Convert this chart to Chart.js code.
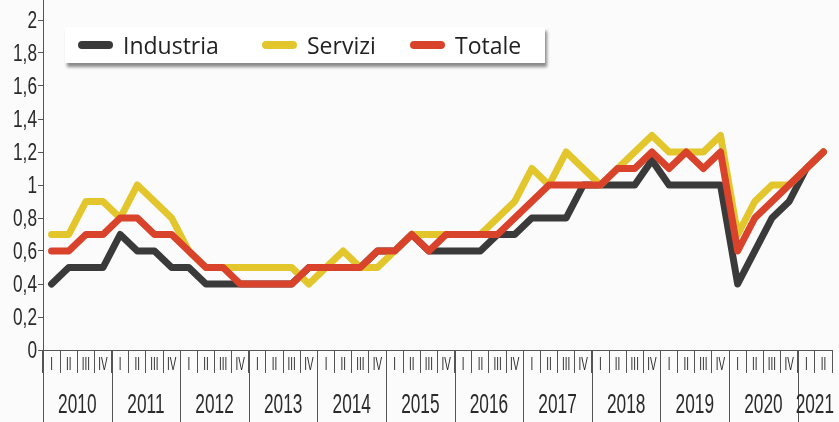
<!DOCTYPE html>
<html>
<head>
<meta charset="utf-8">
<script src="https://cdn.jsdelivr.net/npm/chart.js@4.4.1/dist/chart.umd.min.js"></script>
<style>
html,body{margin:0;padding:0;background:#fbfbfb;}
#wrap{position:relative;width:839px;height:422px;overflow:hidden;}
#c{position:absolute;left:0;top:0;}
#legend{position:absolute;left:65px;top:27px;width:480px;height:36px;background:#fff;
  box-shadow:2px 4px 3px rgba(0,0,0,0.45);font-family:"Open Sans",sans-serif;font-size:23px;color:#222;}
.item{position:absolute;top:0;height:36px;display:flex;align-items:center;}
.sw{width:35px;height:8px;border-radius:4px;margin-right:10px;}
</style>
</head>
<body>
<div id="wrap">
<canvas id="c" width="839" height="422"></canvas>
<div id="legend"></div>
</div>
<script>
// ---- data ----
const years = ['2010','2011','2012','2013','2014','2015','2016','2017','2018','2019','2020','2021'];
const quarterNames = ['I','II','III','IV'];
const seriesNames = ['Industria','Servizi','Totale'];
const industria = [0.4,0.5,0.5,0.5, 0.7,0.6,0.6,0.5, 0.5,0.4,0.4,0.4, 0.4,0.4,0.4,0.5,
                   0.5,0.5,0.5,0.6, 0.6,0.7,0.6,0.6, 0.6,0.6,0.7,0.7, 0.8,0.8,0.8,1.0,
                   1.0,1.0,1.0,1.15, 1.0,1.0,1.0,1.0, 0.4,0.6,0.8,0.9, 1.1,1.2];
const servizi  = [0.7,0.7,0.9,0.9, 0.8,1.0,0.9,0.8, 0.6,0.5,0.5,0.5, 0.5,0.5,0.5,0.4,
                   0.5,0.6,0.5,0.5, 0.6,0.7,0.7,0.7, 0.7,0.7,0.8,0.9, 1.1,1.0,1.2,1.1,
                   1.0,1.1,1.2,1.3, 1.2,1.2,1.2,1.3, 0.7,0.9,1.0,1.0, 1.1,1.2];
const totale   = [0.6,0.6,0.7,0.7, 0.8,0.8,0.7,0.7, 0.6,0.5,0.5,0.4, 0.4,0.4,0.4,0.5,
                   0.5,0.5,0.5,0.6, 0.6,0.7,0.6,0.7, 0.7,0.7,0.7,0.8, 0.9,1.0,1.0,1.0,
                   1.0,1.1,1.1,1.2, 1.1,1.2,1.1,1.2, 0.6,0.8,0.9,1.0, 1.1,1.2];
const yTickValues = [0,0.2,0.4,0.6,0.8,1,1.2,1.4,1.6,1.8,2];
const yTickLabels = ['0','0,2','0,4','0,6','0,8','1','1,2','1,4','1,6','1,8','2'];

// ---- derived ----
const nPoints = industria.length;
const quarterLabels = [];
for (let i = 0; i < nPoints; i++) quarterLabels.push(quarterNames[i % 4]);
const colors = ['#3a3a3a','#e3c62c','#d9432c'];
const axisFont = '"Liberation Sans",Arial,sans-serif';
const clear = 'rgba(0,0,0,0)';

// legend (HTML text)
const legendPos = [13,197,345];
const lg = document.getElementById('legend');
seriesNames.forEach((n,k)=>{
  const d = document.createElement('div'); d.className='item'; d.style.left=legendPos[k]+'px';
  d.innerHTML = '<span class="sw" style="background:'+colors[k]+'"></span><span>'+n+'</span>';
  lg.appendChild(d);
});

function narrowText(ctx, text, x, y, size, sx, align){
  ctx.save();
  ctx.font = size + 'px ' + axisFont;
  ctx.textAlign = align; ctx.textBaseline = 'middle';
  ctx.translate(x, y); ctx.scale(sx, 1);
  ctx.fillText(text, 0, 0);
  ctx.restore();
}

const axisTextPlugin = {
  id:'axisText',
  afterDraw(chart){
    const xs = chart.scales.x, ys = chart.scales.y, ctx = chart.ctx, ca = chart.chartArea;
    const half = (xs.getPixelForValue(1) - xs.getPixelForValue(0)) / 2;
    ctx.save();
    ctx.strokeStyle = '#555'; ctx.lineWidth = 1;
    // y-axis line extension to top
    ctx.beginPath(); ctx.moveTo(Math.round(ca.left)+0.5, 0); ctx.lineTo(Math.round(ca.left)+0.5, ca.top); ctx.stroke();
    ctx.fillStyle = '#2a2a2a';
    // y tick labels
    ys.ticks.forEach((t,i)=>{
      narrowText(ctx, yTickLabels[i], ca.left - 6, ys.getPixelForValue(t.value) + 1, 24, 0.72, 'right');
    });
    // quarter labels
    quarterLabels.forEach((q,i)=>{
      narrowText(ctx, q, xs.getPixelForValue(i), 365, 18, 0.55, 'center');
    });
    // year separators and labels
    years.forEach((yr,k)=>{
      const first = k*4, last = Math.min(first+3, nPoints-1);
      const x0 = xs.getPixelForValue(first) - half;
      const x1 = xs.getPixelForValue(last) + half;
      const xl = Math.round(x0)+0.5;
      ctx.beginPath(); ctx.moveTo(xl, ca.bottom); ctx.lineTo(xl, chart.height); ctx.stroke();
      narrowText(ctx, yr, (x0+x1)/2, 406, 27, 0.64, 'center');
    });
    ctx.restore();
  }
};

new Chart(document.getElementById('c'), {
  type:'line',
  data:{
    labels: quarterLabels,
    datasets:[
      {label:seriesNames[0], data:industria, borderColor:colors[0], order:3},
      {label:seriesNames[1], data:servizi, borderColor:colors[1], order:2},
      {label:seriesNames[2], data:totale, borderColor:colors[2], order:1}
    ].map(d=>Object.assign(d,{borderWidth:7, pointRadius:0, tension:0, fill:false,
      borderJoinStyle:'round', borderCapStyle:'round'}))
  },
  options:{
    responsive:false, animation:false,
    layout:{padding:{top:20,right:7,left:0,bottom:0}},
    plugins:{legend:{display:false}, tooltip:{enabled:false}},
    scales:{
      x:{
        type:'category', offset:true,
        grid:{offset:true, drawOnChartArea:false, tickLength:23, color:'#555', lineWidth:1},
        border:{color:'#555', width:1},
        ticks:{autoSkip:false, maxRotation:0, minRotation:0, padding:-19, font:{size:10}, color:clear},
        afterFit(s){ s.height = 72; }
      },
      y:{
        min:0, max:2,
        afterBuildTicks(s){ s.ticks = yTickValues.map(v=>({value:v})); },
        ticks:{callback:(v,i)=>yTickLabels[i], font:{size:12}, color:clear, padding:2},
        grid:{drawOnChartArea:false, tickLength:5, color:'#555'},
        border:{color:'#555', width:1},
        afterFit(s){ s.width = 43; }
      }
    }
  },
  plugins:[axisTextPlugin]
});
</script>
</body>
</html>
